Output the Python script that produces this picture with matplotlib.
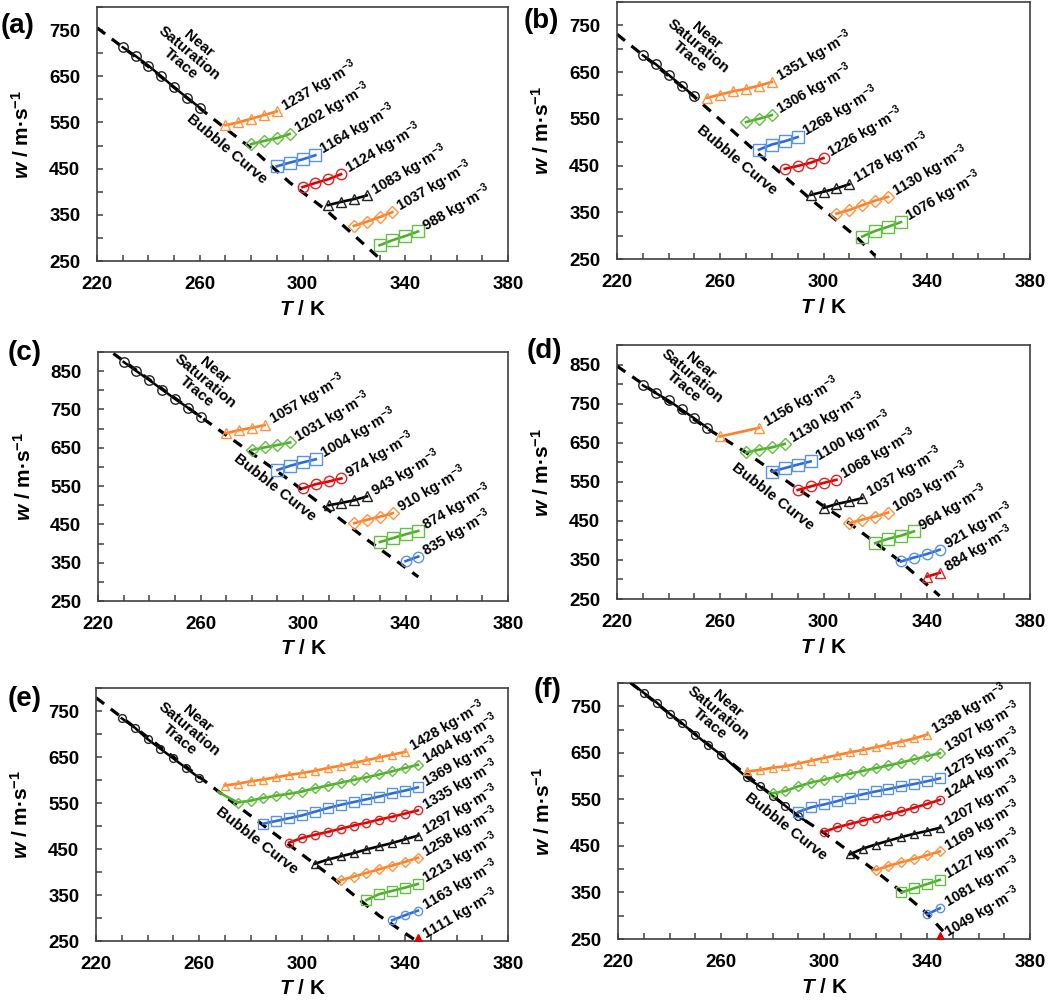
import matplotlib
matplotlib.use('Agg')
import matplotlib.pyplot as plt

plt.rcParams['font.family'] = ['Liberation Sans', 'DejaVu Sans']
plt.rcParams['font.weight'] = 'bold'
plt.rcParams['mathtext.fontset'] = 'custom'
plt.rcParams['mathtext.rm'] = 'Liberation Sans:bold'
plt.rcParams['mathtext.it'] = 'Liberation Sans:italic:bold'
plt.rcParams['mathtext.bf'] = 'Liberation Sans:bold'
plt.rcParams['mathtext.default'] = 'rm'

# ---------------- DATA ----------------
# panel (a)
a_nst_T = [230, 235, 240, 245, 250, 255, 260]
a_nst_w = [713, 694, 673, 650, 626, 604, 582]
a_bub_T = [220, 240, 260, 270, 281, 295, 309, 320, 331.5]
a_bub_w = [755, 671, 581, 537, 490, 420, 361, 306, 248]
a_rho = [1237, 1202, 1164, 1124, 1083, 1037, 988]
a_T = [[270, 275, 280, 285, 290], [280, 285, 290, 295], [290, 295, 300, 305],
       [300, 305, 310, 315], [310, 315, 320, 325], [320, 325, 330, 335],
       [330, 335, 340, 345]]
a_w = [[544, 550, 558, 566, 574], [503, 510, 516, 525], [455, 463, 470, 479],
       [410, 419, 427, 438], [371, 378, 384, 392], [326, 335, 345, 356],
       [284, 295, 304, 314]]

# panel (b)
b_nst_T = [230, 235, 240, 245, 250]
b_nst_w = [686, 667, 644, 621, 598]
b_bub_T = [220, 250, 275, 294, 313, 320]
b_bub_w = [731, 597, 474, 383, 296, 257]
b_rho = [1351, 1306, 1268, 1226, 1178, 1130, 1076]
b_T = [[255, 260, 265, 270, 275, 280], [270, 275, 280], [275, 280, 285, 290],
       [285, 290, 295, 300], [295, 300, 305, 310], [305, 310, 315, 320, 325],
       [315, 320, 325, 330]]
b_w = [[595, 602, 609, 614, 621, 629], [543, 550, 558], [484, 495, 502, 511],
       [443, 449, 456, 466], [387, 394, 401, 410], [347, 355, 365, 375, 383],
       [298, 310, 319, 329]]

# panel (c)
c_nst_T = [230, 235, 240, 245, 250, 255, 260]
c_nst_w = [874, 850, 827, 802, 778, 755, 731]
c_bub_T = [226, 260, 295, 325, 345]
c_bub_w = [896, 731, 564, 410, 313]
c_rho = [1057, 1031, 1004, 974, 943, 910, 874, 835]
c_T = [[270, 275, 280, 285], [280, 285, 290, 295], [290, 295, 300, 305],
       [300, 305, 310, 315], [310, 315, 320, 325], [320, 325, 330, 335],
       [330, 335, 340, 345], [340, 345]]
c_w = [[688, 696, 702, 709], [644, 651, 657, 664], [592, 603, 612, 620],
       [544, 555, 562, 570], [500, 506, 513, 523], [453, 462, 470, 479],
       [404, 414, 424, 433], [354, 366]]

# panel (d)
d_nst_T = [230, 235, 240, 245, 250, 255]
d_nst_w = [797, 777, 758, 735, 712, 688]
d_bub_T = [220, 255, 270, 290, 310, 330, 345]
d_bub_w = [846, 686, 625, 532, 444, 345, 258]
d_rho = [1156, 1130, 1100, 1068, 1037, 1003, 964, 921, 884]
d_T = [[260, 275], [270, 275, 280, 285], [280, 285, 290, 295], [290, 295, 300, 305],
       [300, 305, 310, 315], [310, 315, 320, 325], [320, 325, 330, 335],
       [330, 335, 340, 345], [340, 345]]
d_w = [[666, 688], [625, 632, 638, 647], [576, 585, 594, 602], [529, 538, 547, 555],
       [483, 493, 500, 508], [444, 453, 461, 471], [393, 404, 412, 423],
       [346, 356, 365, 376], [307, 317]]

# panel (e)
e_nst_T = [230, 235, 240, 245, 250, 255, 260]
e_nst_w = [734, 714, 689, 668, 647, 626, 605]
e_bub_T = [220, 268, 291.5, 310, 330, 344.5]
e_bub_w = [779, 573, 474, 396, 305, 250]
e_rho = [1428, 1404, 1369, 1335, 1297, 1258, 1213, 1163, 1111]
e_T = [[270, 275, 280, 285, 290, 295, 300, 305, 310, 315, 320, 325, 330, 335, 340],
       [275, 280, 285, 290, 295, 300, 305, 310, 315, 320, 325, 330, 335, 340, 345],
       [285, 290, 295, 300, 305, 310, 315, 320, 325, 330, 335, 340, 345],
       [295, 300, 305, 310, 315, 320, 325, 330, 335, 340, 345],
       [305, 310, 315, 320, 325, 330, 335, 340, 345],
       [315, 320, 325, 330, 335, 340, 345],
       [325, 330, 335, 340, 345],
       [335, 340, 345],
       [345]]
e_w = [[588, 592, 597, 601, 606, 611, 615, 620, 626, 631, 637, 643, 649, 655, 661],
       [551, 555, 561, 566, 570, 575, 582, 588, 594, 600, 606, 612, 619, 626, 633],
       [505, 511, 517, 523, 531, 539, 546, 552, 558, 564, 571, 577, 584],
       [464, 474, 481, 487, 494, 501, 507, 514, 520, 527, 534],
       [418, 427, 434, 441, 449, 456, 463, 471, 479],
       [382, 390, 398, 406, 414, 422, 431],
       [339, 352, 359, 366, 374],
       [295, 306, 316],
       [253]]
# fitted line of the 1404 kg/m3 isochore starts on the bubble curve
e_1404_line_start_T = [267.5]
e_1404_line_start_w = [574]

# panel (f)
f_nst_T = [230, 235, 240, 245, 250, 255, 260, 270, 275, 280, 285, 290]
f_nst_w = [779, 758, 734, 713, 689, 667, 646, 597, 578, 558, 536, 514]
f_nst_line_T = [225, 230, 235, 240, 245, 250, 255, 260, 270, 275, 280, 285, 290, 293]
f_nst_line_w = [800, 779, 758, 734, 713, 689, 667, 646, 597, 578, 558, 536, 514, 503]
f_bub_T = [225, 260, 290, 300, 310, 320, 330, 340, 347]
f_bub_w = [800, 646, 514, 478, 437, 396, 352, 305, 262]
f_rho = [1338, 1307, 1275, 1244, 1207, 1169, 1127, 1081, 1049]
f_T = [[270, 275, 280, 285, 290, 295, 300, 305, 310, 315, 320, 325, 330, 335, 340],
       [280, 285, 290, 295, 300, 305, 310, 315, 320, 325, 330, 335, 340, 345],
       [290, 295, 300, 305, 310, 315, 320, 325, 330, 335, 340, 345],
       [300, 305, 310, 315, 320, 325, 330, 335, 340, 345],
       [310, 315, 320, 325, 330, 335, 340, 345],
       [320, 325, 330, 335, 340, 345],
       [330, 335, 340, 345],
       [340, 345],
       [345]]
f_w = [[610, 613, 618, 621, 627, 633, 639, 645, 651, 656, 662, 668, 674, 681, 689],
       [563, 568, 578, 586, 592, 599, 605, 611, 617, 623, 629, 636, 643, 649],
       [523, 533, 539, 546, 554, 561, 567, 572, 578, 583, 589, 595],
       [480, 490, 497, 504, 511, 517, 524, 532, 540, 549],
       [432, 444, 453, 461, 469, 476, 482, 489],
       [398, 407, 415, 422, 430, 438],
       [350, 359, 368, 377],
       [303, 316],
       [252]]

x_major = [220, 260, 300, 340, 380]

# ---------------- STYLE ----------------
line_cols = ['#FF7F27', '#4DAF2A', '#2F6BD6', '#E00000', '#000000']
mark_cols = ['#FF9440', '#66BF45', '#5A92E6', '#E42222', '#222222']
markers = ['^', 'D', 's', 'o']
msize_big = {'^': 7.5, 'D': 5.8, 's': 8.5, 'o': 7.5}
msize_small = {'^': 5.5, 'D': 4.6, 's': 6.5, 'o': 6.0}

W, H = 1050, 1002
fig = plt.figure(figsize=(W / 100, H / 100), dpi=100)


def px_axes(l, t, r, b):
    return fig.add_axes([l / W, 1 - b / H, (r - l) / W, (b - t) / H])


panels = [
    dict(tag='(a)', box=(97, 7, 508, 261), ytop=800, nst=(a_nst_T, a_nst_w), bub=(a_bub_T, a_bub_w),
         rho=a_rho, T=a_T, w=a_w, small=False, ntxt=(256, 699), btxt=(270.5, 493), brot=-40,
         tagpos=(18, 26)),
    dict(tag='(b)', box=(617, 2, 1030, 259), ytop=800, nst=(b_nst_T, b_nst_w), bub=(b_bub_T, b_bub_w),
         rho=b_rho, T=b_T, w=b_w, small=False, ntxt=(251.5, 706), btxt=(266.5, 461), brot=-40,
         tagpos=(541, 21)),
    dict(tag='(c)', box=(98, 352, 508, 601), ytop=900, nst=(c_nst_T, c_nst_w), bub=(c_bub_T, c_bub_w),
         rho=c_rho, T=c_T, w=c_w, small=False, ntxt=(262, 824), btxt=(289, 546), brot=-38,
         tagpos=(25, 353)),
    dict(tag='(d)', box=(617, 345, 1030, 599), ytop=900, nst=(d_nst_T, d_nst_w), bub=(d_bub_T, d_bub_w),
         rho=d_rho, T=d_T, w=d_w, small=False, ntxt=(249, 820), btxt=(280.5, 512), brot=-38,
         tagpos=(544, 351)),
    dict(tag='(e)', box=(96, 688, 508, 941), ytop=800, nst=(e_nst_T, e_nst_w), bub=(e_bub_T, e_bub_w),
         rho=e_rho, T=e_T, w=e_w, small=True, ntxt=(256, 710), btxt=(282.5, 468), brot=-38,
         tagpos=(25, 699), pre={1: (e_1404_line_start_T, e_1404_line_start_w)}),
    dict(tag='(f)', box=(618, 683, 1030, 939), ytop=800, nst=(f_nst_T, f_nst_w), bub=(f_bub_T, f_bub_w),
         rho=f_rho, T=f_T, w=f_w, small=True, ntxt=(259, 734), btxt=(285, 492), brot=-38,
         tagpos=(548, 690), nstline=(f_nst_line_T, f_nst_line_w)),
]

for p in panels:
    ax = px_axes(*p['box'])
    ytop = p['ytop']
    ax.set_xlim(220, 380)
    ax.set_ylim(250, ytop)
    # ticks
    ax.set_xticks(x_major)
    ax.set_xticks([t for t in range(220, 381, 10) if t not in x_major], minor=True)
    ymaj = list(range(250, ytop, 100))
    ax.set_yticks(ymaj)
    ax.set_yticks([v for v in range(300, ytop + 1, 50) if v not in ymaj], minor=True)
    ax.tick_params(which='both', direction='in', length=4.5, width=1.1, color='#404040',
                   top=False, right=False)
    ax.tick_params(axis='x', which='major', labelsize=13.5, pad=11)
    ax.tick_params(axis='y', which='major', labelsize=13.5, pad=12)
    for lab in ax.get_xticklabels() + ax.get_yticklabels():
        lab.set_fontweight('bold')
    for s in ax.spines.values():
        s.set_linewidth(1.2)
        s.set_color('#404040')

    ax.set_xlabel(r'$\it{T}$ / K', fontsize=15, fontweight='bold')
    ax.set_ylabel(r'$\it{w}$ / m·s$^{-1}$', fontsize=15, fontweight='bold')
    ax.xaxis.set_label_coords(0.5, -0.152)
    ax.yaxis.set_label_coords(-0.155, 0.5)

    # bubble curve (dashed)
    ax.plot(p['bub'][0], p['bub'][1], color='black', lw=2.3, dashes=(3.2, 2.6), zorder=2)
    # near saturation trace
    nT, nw = p['nst']
    lT, lw_ = p.get('nstline', (nT, nw))
    ms_c = 5.6 if p['small'] else 6.8
    ax.plot(lT, lw_, color='black', lw=1.8, zorder=3)
    ax.plot(nT, nw, ls='none', marker='o', ms=ms_c, mfc='none', mec='#222222', mew=1.0, zorder=4)

    msz = msize_small if p['small'] else msize_big
    pre = p.get('pre', {})
    for i, (rho, Ts, ws) in enumerate(zip(p['rho'], p['T'], p['w'])):
        lc = line_cols[i % 5]
        mc = mark_cols[i % 5]
        mk = markers[i % 4]
        if len(Ts) > 1:
            pT, pw = pre.get(i, ([], []))
            ax.plot(list(pT) + list(Ts), list(pw) + list(ws), color=lc, lw=1.9, zorder=5)
            ax.plot(Ts, ws, ls='none', marker=mk, ms=msz[mk], mfc='none', mec=mc, mew=1.0, zorder=6)
        else:
            ax.plot(Ts, ws, ls='none', marker=mk, ms=msz[mk] + 2.5, mfc=lc, mec=lc, mew=1.0, zorder=6)
        ax.annotate(f'{rho} kg·m$^{{-3}}$', xy=(Ts[-1], ws[-1]), xytext=(4, 3),
                    textcoords='offset points', ha='left', va='center', rotation=30,
                    rotation_mode='anchor', fontsize=10.5, fontweight='bold', zorder=7,
                    annotation_clip=False)

    ax.text(p['ntxt'][0], p['ntxt'][1], 'Near\nSaturation\nTrace', rotation=-40,
            ha='center', va='center', multialignment='center', fontsize=11,
            fontweight='bold', linespacing=0.95, rotation_mode='anchor')
    ax.text(p['btxt'][0], p['btxt'][1], 'Bubble Curve', rotation=p['brot'],
            ha='center', va='center', fontsize=11, fontweight='bold', rotation_mode='anchor')

    fig.text(p['tagpos'][0] / W, 1 - p['tagpos'][1] / H, p['tag'], fontsize=20,
             fontweight='bold', ha='center', va='center')

fig.savefig('out.png', dpi=100)
